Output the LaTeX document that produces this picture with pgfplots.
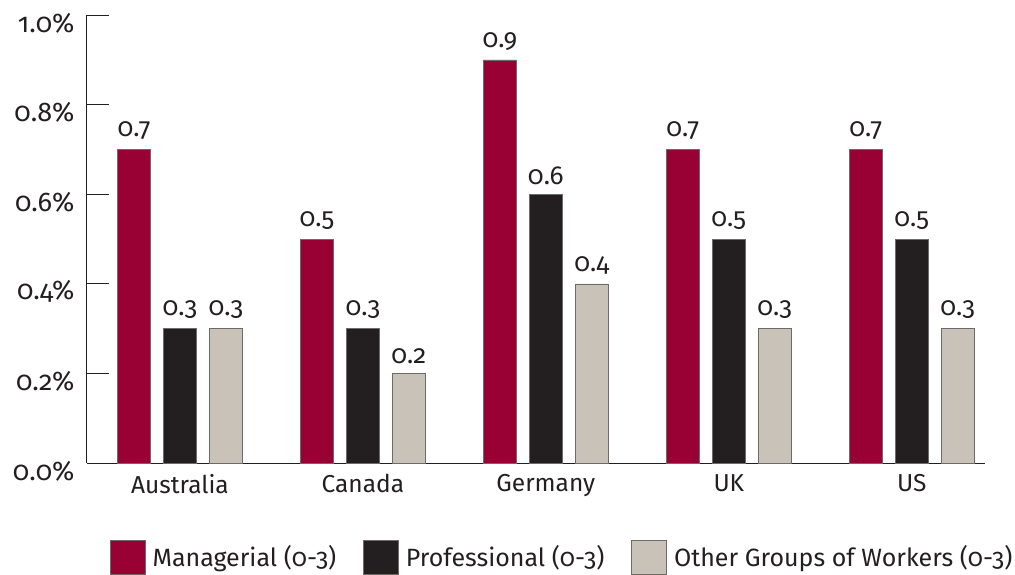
\documentclass[border=0pt]{standalone}
\usepackage{pgfplots}
\pgfplotsset{compat=1.18}
\usepackage{fontspec}
\setmainfont[Numbers=OldStyle]{Fira Sans}
\definecolor{mred}{HTML}{990033}
\definecolor{mblack}{HTML}{231F20}
\definecolor{mgray}{HTML}{C9C2B8}
\definecolor{mborder}{HTML}{6E6A68}
\definecolor{mtext}{HTML}{231F20}
\newcommand{\cf}{\fontsize{26}{30}\selectfont}
\newcommand{\yf}{\fontsize{27}{32}\selectfont}
\newcommand{\xf}{\fontsize{24.5}{30}\selectfont}
\newcommand{\lf}{\fontsize{25}{30}\selectfont}
\begin{document}
\begin{tikzpicture}
\begin{axis}[
  name=ax,
  scale only axis,
  width=898pt, height=448pt,
  xmin=-0.508, xmax=4.40,
  ymin=0, ymax=1.0,
  axis x line*=bottom,
  axis y line*=left,
  axis line style={mtext, line width=1pt},
  xtick={0,1,2,3,4},
  xticklabels={Australia,Canada,Germany,UK,US},
  x tick style={draw=none},
  ytick={0,0.2,0.4,0.6,0.8,1.0},
  y tick style={mtext, line width=1pt},
  tick align=inside,
  major tick length=22pt,
  /pgf/number format/assume math mode=true,
  yticklabel={\pgfmathprintnumber[fixed,fixed zerofill,precision=1]{\tick}\%},
  ticklabel style={text=mtext},
  yticklabel style={font=\yf, xshift=-9pt, yshift=-8pt},
  xticklabel style={font=\xf, yshift=14pt},
  bar width=0.18,
  ybar,
  nodes near coords,
  nodes near coords style={font=\cf, text=mtext, /pgf/number format/fixed, /pgf/number format/precision=1, /pgf/number format/assume math mode=true, yshift=6pt},
  legend columns=3,
  legend style={draw=none, font=\lf, text=mtext, fill=none,
    at={(0.022,-0.166)}, anchor=north west,
    /tikz/every odd column/.append style={column sep=5pt},
    /tikz/every even column/.append style={column sep=25pt}},
  legend image code/.code={\draw[#1] (0pt,-17pt) rectangle (35pt,17pt);},
]
\addplot[fill=mred, draw=mborder, line width=0.6pt, bar shift=-0.251] coordinates {(0,0.7) (1,0.5) (2,0.9) (3,0.7) (4,0.7)};
\addlegendentry{Managerial (0-3)}
\addplot[fill=mblack, draw=mborder, line width=0.6pt, bar shift=0] coordinates {(0,0.3) (1,0.3) (2,0.6) (3,0.5) (4,0.5)};
\addlegendentry{Professional (0-3)}
\addplot[fill=mgray, draw=mborder, line width=0.6pt, bar shift=0.251] coordinates {(0,0.3) (1,0.2) (2,0.4) (3,0.3) (4,0.3)};
\addlegendentry{Other Groups of Workers (0-3)}
\end{axis}
\pgfresetboundingbox
\path (ax.south west) ++(-87pt,463pt) rectangle ++(1015pt,-574pt);
\end{tikzpicture}
\end{document}
